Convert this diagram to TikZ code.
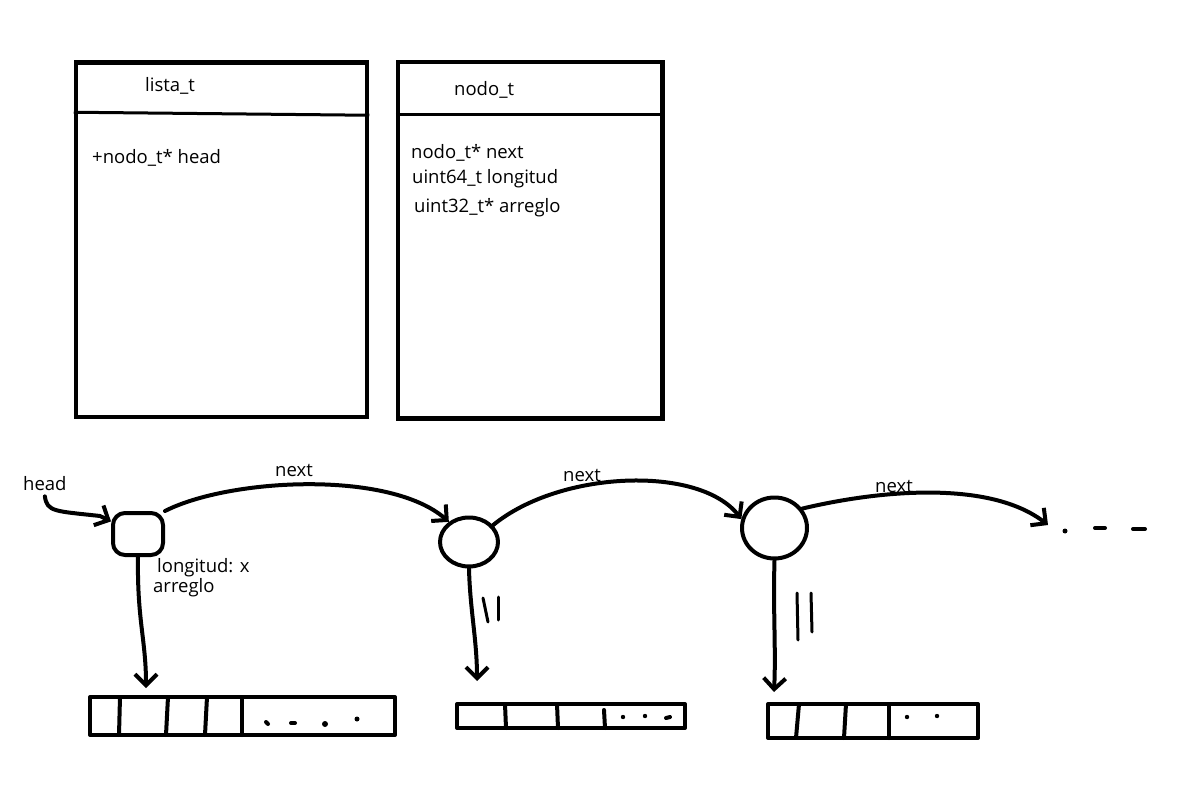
\documentclass[tikz,border=0pt]{standalone}
\usepackage{fontspec}
\setmainfont{Open Sans}
\usepackage{tikz}
\usetikzlibrary{arrows.meta,positioning,calc,shapes.geometric}

\tikzset{
    texto/.style={font=\fontsize{18.5}{22}\selectfont, inner sep=0pt, anchor=base west},
    trazo/.style={line width=4pt, line cap=round, line join=round},
    clase/.style={draw, line width=4.5pt, inner sep=0pt},
    bolita/.style={draw, trazo, inner sep=0pt},
    arreglo/.style={draw, trazo, inner sep=0pt},
    flecha/.style={trazo, -{Straight Barb[length=11pt,width=22pt]}}
}

\begin{document}
\begin{tikzpicture}[x=1pt, y=-1pt]
    \useasboundingbox (0,0) rectangle (1194,810);

    % Clase lista_t
    \node[clase, minimum width=291pt, minimum height=354.5pt] (lista) at (221.5,239.75) {};
    \draw[line width=3pt] ([yshift=-52pt]lista.north west) -- ([yshift=-55pt]lista.north east);
    \node[texto] (tituloLista) at (145,92) {lista\_t};
    \node[texto] (campoHead) at (92,164) {+nodo\_t* head};

    % Clase nodo_t
    \node[clase, minimum width=264.5pt, minimum height=356.5pt] (nodo) at (530.25,240.25) {};
    \draw[line width=3pt] ([yshift=-55pt]nodo.north west) -- ([yshift=-55pt]nodo.north east);
    \node[texto] (tituloNodo) at (454,96) {nodo\_t};
    \node[texto] (campoNext) at (411,159) {nodo\_t* next};
    \node[texto] (campoLong) at (412,184) {uint64\_t longitud};
    \node[texto] (campoArr) at (414,213) {uint32\_t* arreglo};

    % Nodos de la lista
    \node[bolita, rectangle, rounded corners=12pt, minimum width=50pt, minimum height=42pt] (n1) at (138,534) {};
    \node[bolita, ellipse, minimum width=58pt, minimum height=49pt] (n2) at (469,542) {};
    \node[bolita, ellipse, minimum width=65pt, minimum height=61pt] (n3) at (774.5,528) {};
    \coordinate (fin) at (1048,525);

    % Arreglos
    \node[arreglo, minimum width=305pt, minimum height=38pt] (arr1) at (242.5,716) {};
    \node[arreglo, minimum width=228pt, minimum height=24pt] (arr2) at (571,716) {};
    \node[arreglo, minimum width=210pt, minimum height=34pt] (arr3) at (873,721) {};

    % head
    \node[texto] (head) at (23,490) {head};
    \draw[flecha] ([yshift=-6pt]head.south) .. controls (47,512) and (55,511) .. (100,516) -- (n1.155);

    % next
    \draw[flecha] (n1.north east) .. controls (230,478) and (390,470) .. (n2.135);
    \node[texto] (next1) at (275,476) {next};
    \draw[flecha] (n2.35) .. controls (560,470) and (700,465) .. (n3.165);
    \node[texto] (next2) at (563,481) {next};
    \draw[flecha] (n3.35) .. controls (880,490) and (990,480) .. (fin);
    \node[texto] (next3) at (875,492) {next};
    \fill (1065,531) circle (2.5pt);
    \draw[trazo] (1095,528) -- (1105,528);
    \draw[trazo] (1133,529) -- (1145,529);

    % arreglo de cada nodo
    \draw[flecha] (n1.south) .. controls (137,620) and (146,640) .. ([xshift=58pt,yshift=7pt]arr1.north west);
    \node[texto] (longitud) at (157,572) {longitud: x};
    \node[texto] (arreglo1) at (153,592) {arreglo};
    \draw[flecha] (n2.south) .. controls (470,610) and (477,640) .. ([xshift=22pt,yshift=21pt]arr2.north west);
    \draw[flecha] (n3.south) .. controls (773,610) and (776,650) .. ([xshift=8pt,yshift=10pt]arr3.north west);

    % marcas ||
    \draw[trazo, line width=3pt] (483,598) -- (488,622);
    \draw[trazo, line width=3pt] (498,597) -- (498,620);
    \draw[trazo, line width=3pt] (797,593) -- (798,640);
    \draw[trazo, line width=3pt] (811,593) -- (812,632);

    % divisiones arr1
    \draw[trazo] (120,697) -- (119,735);
    \draw[trazo] (168,697) -- (166,735);
    \draw[trazo] (207,697) -- (205,735);
    \draw[trazo] (242,697) -- (242,735);
    \draw[trazo] (266,722) -- (268,724);
    \draw[trazo] (291,723) -- (295,723);
    \fill (325,724) circle (3pt);
    \fill (357,719) circle (2.5pt);

    % divisiones arr2
    \draw[trazo] (505,704) -- (506,728);
    \draw[trazo] (557,704) -- (558,728);
    \draw[trazo] (604,710) -- (605,728);
    \fill (623,717) circle (2.2pt);
    \fill (645,716) circle (2.2pt);
    \draw[trazo] (666,718) -- (670,717);

    % divisiones arr3
    \draw[trazo] (799,704) -- (796,738);
    \draw[trazo] (846,704) -- (844,738);
    \draw[trazo] (889,704) -- (889,738);
    \fill (907,717) circle (2.2pt);
    \fill (937,716) circle (2.2pt);
\end{tikzpicture}
\end{document}
